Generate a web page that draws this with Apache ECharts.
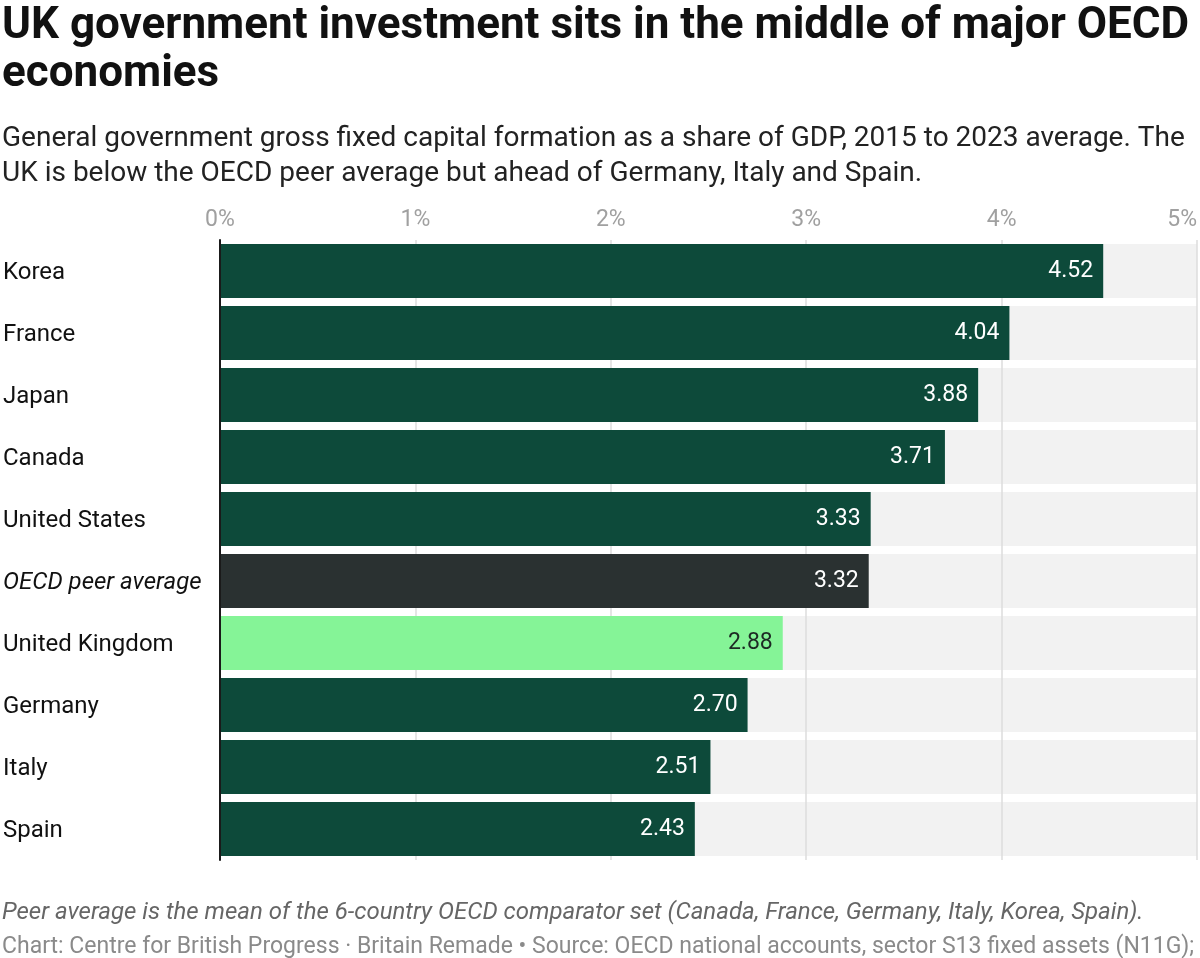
<!DOCTYPE html>
<html>
<head>
<meta charset="utf-8">
<script src="https://cdn.jsdelivr.net/npm/echarts@6/dist/echarts.min.js"></script>
<style>
  html, body { margin: 0; padding: 0; background: #fff; }
  #chart { width: 1200px; height: 958px; }
</style>
</head>
<body>
<div id="chart"></div>
<script>
// data, top to bottom as in the chart
const countries = ['Korea', 'France', 'Japan', 'Canada', 'United States',
  'OECD peer average', 'United Kingdom', 'Germany', 'Italy', 'Spain'];
const investShare = [4.52, 4.04, 3.88, 3.71, 3.33, 3.32, 2.88, 2.70, 2.51, 2.43];
const xTicks = [0, 1, 2, 3, 4, 5];
const xMax = 5;

const FONT = 'Roboto';
const GREEN = '#0d4a3a';
const AVG = '#2a3131';
const UK = '#85f497';

function barColor(name) {
  if (name === 'OECD peer average') return AVG;
  if (name === 'United Kingdom') return UK;
  return GREEN;
}

const chart = echarts.init(document.getElementById('chart'));

chart.setOption({
  animation: false,
  textStyle: { fontFamily: FONT },
  title: [
    {
      text: 'UK government investment sits in the middle of major OECD\neconomies',
      left: 2, top: 3, padding: 0,
      textStyle: { fontSize: 44, fontWeight: 'bold', color: '#111', lineHeight: 48, fontFamily: FONT }
    },
    {
      text: 'General government gross fixed capital formation as a share of GDP, 2015 to 2023 average. The\nUK is below the OECD peer average but ahead of Germany, Italy and Spain.',
      left: 2, top: 121, padding: 0,
      textStyle: { fontSize: 28, fontWeight: 'normal', color: '#222', lineHeight: 35, fontFamily: FONT }
    },
    {
      text: 'Peer average is the mean of the 6-country OECD comparator set (Canada, France, Germany, Italy, Korea, Spain).',
      left: 2, top: 899, padding: 0,
      textStyle: { fontSize: 24, fontWeight: 'normal', fontStyle: 'italic', color: '#666', lineHeight: 28, fontFamily: FONT }
    },
    {
      text: 'Chart: Centre for British Progress \u00b7 Britain Remade \u2022 Source: OECD national accounts, sector S13 fixed assets (N11G);',
      left: 2, top: 933, padding: 0,
      textStyle: { fontSize: 23, fontWeight: 'normal', color: '#8a8a8a', lineHeight: 28, fontFamily: FONT }
    }
  ],
  grid: { left: 220, right: 2, top: 240, bottom: 98, containLabel: false },
  xAxis: {
    type: 'value',
    position: 'top',
    min: 0, max: xMax, interval: 1,
    z: 1,
    axisLine: { show: false },
    axisTick: { show: false },
    splitLine: { show: true, lineStyle: { color: '#dcdcdc', width: 1.5 } },
    axisLabel: {
      margin: 8,
      fontSize: 23,
      color: '#a0a0a0',
      fontFamily: FONT,
      alignMaxLabel: 'right',
      formatter: v => (xTicks.includes(v) ? v + '%' : '')
    }
  },
  yAxis: {
    type: 'category',
    inverse: true,
    data: countries,
    z: 3,
    axisLine: { show: true, lineStyle: { color: '#1a1a1a', width: 2 } },
    axisTick: { show: false },
    axisLabel: {
      align: 'left',
      margin: 217,
      fontSize: 24,
      color: '#111',
      fontFamily: FONT,
      padding: [3, 0, 0, 0],
      formatter: v => (v === 'OECD peer average' ? '{it|' + v + '}' : v),
      rich: {
        it: { fontSize: 24, fontStyle: 'italic', color: '#111', fontFamily: FONT }
      }
    }
  },
  series: [
    {
      name: 'background',
      type: 'bar',
      silent: true,
      z: 0,
      barCategoryGap: '12.9%',
      barGap: '-100%',
      data: countries.map(() => xMax),
      itemStyle: { color: '#f2f2f2' },
      label: { show: false }
    },
    {
      name: 'share',
      type: 'bar',
      z: 2,
      barCategoryGap: '12.9%',
      barGap: '-100%',
      data: investShare.map((v, i) => ({
        value: v,
        itemStyle: { color: barColor(countries[i]) },
        label: { color: countries[i] === 'United Kingdom' ? '#1d2a24' : '#ffffff' }
      })),
      label: {
        show: true,
        position: 'insideRight',
        distance: 10,
        fontSize: 23,
        fontFamily: FONT,
        formatter: p => p.value.toFixed(2)
      }
    }
  ]
});
</script>
</body>
</html>
